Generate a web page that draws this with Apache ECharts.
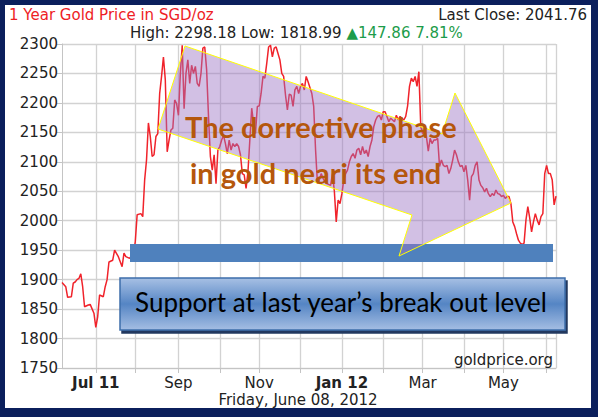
<!DOCTYPE html>
<html><head><meta charset="utf-8">
<script src="https://cdn.jsdelivr.net/npm/echarts@6/dist/echarts.min.js"></script>
<style>html,body{margin:0;padding:0;background:#0b1f5c;}#c{width:598px;height:417px;}</style>
</head><body><div id="c"></div>
<script>
// ---- data ----
const startDate = '2011-06-07';
const endDate = '2012-06-08';
const labelMonths = ['07', '09', '11', '01', '03', '05'];
const monthNames = ['Jan','Feb','Mar','Apr','May','Jun','Jul','Aug','Sep','Oct','Nov','Dec'];
const dayIdx = [
  0,2,3,5,6,7,8,9,10,11,12,14,15,17,18,19,20,22,23,24,25,27,28,30,32,33,34,36,38,39,
  40,42,43,44,45,46,47,48,49,50,51,52,53,54,55,56,57,58,59,60,61,62,63,64,65,66,67,68,69,70,
  71,72,73,74,75,76,77,78,79,80,81,82,83,84,85,86,87,88,89,90,91,92,93,94,95,96,97,98,99,100,
  101,102,103,104,105,106,107,108,109,110,111,112,113,114,115,116,117,118,119,120,121,122,123,124,125,126,127,128,129,130,131,
  133,134,135,136,137,138,139,140,141,143,144,145,146,147,148,149,150,151,152,153,154,155,156,157,158,159,160,
  161,162,163,164,165,166,167,168,169,170,171,172,173,174,175,176,177,178,179,180,181,182,183,184,185,186,187,188,189,190,
  191,192,193,194,195,196,197,198,199,200,201,202,203,204,205,206,207,208,209,210,211,212,213,214,215,216,217,218,219,220,
  221,222,223,224,225,226,227,228,229,230,231,232,233,234,235,236,237,238,239,240,241,242,243,244,245,246,247,248,249,250,
  251,252,253,254,255,256,257,258,259,260,261,262,263
];
const price = [
  1895,1888,1870,1871,1894,1896,1900,1902,1910,1888,1854,1857,1858,1843,1819,1837,1874,1871,1888,1900,1930,1933,1950,1939,1922,1945,1939,1936,1945,1964,
  2010,2012,2007,2069,2103,2166,2143,2109,2112,2143,2148,2216,2245,2278,2239,2117,2137,2154,2157,2205,2199,2179,2250,2298,2190,2250,2273,2233,2264,2250,
  2262,2233,2228,2250,2293,2295,2256,2177,2109,2086,2112,2063,2120,2126,2137,2145,2131,2114,2137,2120,2131,2126,2131,2126,2112,2080,2078,2055,2083,2137,
  2191,2165,2148,2194,2195,2216,2245,2242,2267,2295,2298,2278,2293,2295,2284,2273,2250,2245,2213,2188,2215,2213,2194,2222,2228,2216,2228,2233,2222,2245,2236,
  2216,2194,2120,2063,2069,2080,2072,2066,2063,2060,2080,2050,1998,2035,2029,2046,2069,2080,2086,2100,2109,2114,2106,2120,2123,2112,2126,
  2114,2120,2109,2126,2137,2160,2171,2177,2179,2171,2185,2185,2177,2168,2174,2171,2168,2179,2171,2177,2174,2171,2177,2195,2228,2242,2236,2245,2228,2253,
  2160,2148,2154,2143,2118,2140,2131,2137,2137,2140,2092,2103,2094,2092,2094,2080,2089,2103,2120,2112,2100,2092,2094,2083,2094,2069,2035,2075,2080,2094,
  2100,2069,2060,2056,2049,2055,2046,2041,2046,2043,2052,2046,2045,2041,2043,2038,2041,2041,2029,1998,1990,1978,1967,1962,1960,1962,2001,2024,2005,1981,
  1998,2012,2001,1993,2007,2012,2080,2094,2080,2080,2069,2027,2041.76
];
const yMin = 1750, yMax = 2300, yStep = 50;
const titleText = '1 Year Gold Price in SGD/oz';
const lastCloseText = 'Last Close: 2041.76';
const highLowText = 'High: 2298.18 Low: 1818.99 ';
const changeText = '\u25B2147.86 7.81%';
const dateText = 'Friday, June 08, 2012';
const sourceText = 'goldprice.org';
const note1 = 'The dorrective phase';
const note2 = 'in gold neari its end';
const supportText = 'Support at last year\u2019s break out level';

// ---- build ----
function tradingDays(s, e) {
  const out = [];
  let d = new Date(s + 'T00:00:00Z');
  const end = new Date(e + 'T00:00:00Z');
  while (d <= end) {
    const w = d.getUTCDay();
    if (w !== 0 && w !== 6) out.push(d.toISOString().slice(0, 10));
    d = new Date(d.getTime() + 86400000);
  }
  return out;
}
const categories = tradingDays(startDate, endDate);
const monthStart = new Set();
categories.forEach((c, i) => { if (i > 0 && c.slice(5, 7) !== categories[i - 1].slice(5, 7)) monthStart.add(i); });
const lastIdx = categories.length - 1;
const seriesData = dayIdx.map((d, k) => [categories[d], price[k]]);

const chart = echarts.init(document.getElementById('c'), null, { renderer: 'svg' });
const gridColor = '#d2d2d2';
const uiFont = '15px "DejaVu Sans"';
chart.setOption({
  backgroundColor: '#0b1f5c',
  animation: false,
  grid: { left: 62, right: 42, top: 44, bottom: 49, containLabel: false },
  xAxis: {
    type: 'category', data: categories, boundaryGap: false,
    axisLine: { lineStyle: { color: '#c4c4c4' } },
    axisTick: { show: true, length: 5, interval: (i) => monthStart.has(i), lineStyle: { color: '#c4c4c4' } },
    splitLine: { show: true, interval: (i) => monthStart.has(i) || i === lastIdx, lineStyle: { color: gridColor, width: 1.3 } },
    axisLabel: {
      interval: (i, v) => monthStart.has(i) && labelMonths.includes(v.slice(5, 7)),
      margin: 7,
      fontFamily: 'DejaVu Sans', fontSize: 15, color: '#222',
      formatter: (v) => {
        const m = +v.slice(5, 7) - 1;
        if (m === 6 || m === 0) return '{b|' + monthNames[m] + ' ' + v.slice(2, 4) + '}';
        return monthNames[m];
      },
      rich: { b: { fontFamily: 'DejaVu Sans', fontSize: 15, fontWeight: 'bold', color: '#222' } }
    }
  },
  yAxis: {
    type: 'value', min: yMin, max: yMax, interval: yStep,
    axisLine: { show: true, lineStyle: { color: '#c4c4c4' } },
    axisTick: { show: true, length: 5, lineStyle: { color: '#c4c4c4' } },
    splitLine: { lineStyle: { color: gridColor, width: 1.3 } },
    axisLabel: { margin: 4, fontFamily: 'DejaVu Sans', fontSize: 15, color: '#222', formatter: (v) => String(v) }
  },
  series: [{
    type: 'line', data: seriesData, symbol: 'none', connectNulls: true, z: 3,
    lineStyle: { color: '#f0232b', width: 1.5 }
  }],
  graphic: [
    { type: 'rect', z: -10, silent: true, shape: { x: 5, y: 5, width: 586, height: 403 }, style: { fill: '#ffffff' } },
    { type: 'text', z: 5, x: 9, y: 15, style: { text: titleText, fill: '#ee1d25', font: uiFont, verticalAlign: 'middle' } },
    { type: 'text', z: 5, x: 587, y: 15, style: { text: lastCloseText, fill: '#222', font: uiFont, align: 'right', verticalAlign: 'middle' } },
    { type: 'text', z: 5, x: 130, y: 33, style: {
      text: '{a|' + highLowText + '}{g|' + changeText + '}', verticalAlign: 'middle',
      rich: { a: { fill: '#222', font: uiFont }, g: { fill: '#1d9c4a', font: uiFont } } } },
    { type: 'text', z: 5, x: 298, y: 400, style: { text: dateText, fill: '#222', font: uiFont, align: 'center', verticalAlign: 'middle' } },
    { type: 'text', z: 5, x: 553, y: 360, style: { text: sourceText, fill: '#222', font: uiFont, align: 'right', verticalAlign: 'middle' } },
    { type: 'rect', z: 40, silent: true, shape: { x: 130, y: 244, width: 423, height: 18 }, style: { fill: '#4f81bd' } },
    { type: 'polygon', z: 45, silent: true,
      shape: { points: [[185, 46], [442, 134], [455, 93], [511, 203], [399, 256], [412, 215], [158, 129]] },
      style: { fill: 'rgba(155,115,195,0.45)', stroke: '#ffff00', lineWidth: 1 } },
    { type: 'text', z: 46, x: 185, y: 126, style: { text: note1, fill: '#b5570c', font: 'bold 29px Lato', verticalAlign: 'middle' } },
    { type: 'text', z: 46, x: 190, y: 172, style: { text: note2, fill: '#b5570c', font: 'bold 29px Lato', verticalAlign: 'middle' } },
    { type: 'rect', z: 50, silent: true, shape: { x: 120, y: 278, width: 445, height: 52 },
      style: {
        fill: new echarts.graphic.LinearGradient(0, 0, 0, 1, [
          { offset: 0, color: '#a7c0e4' }, { offset: 0.5, color: '#5585c4' }, { offset: 1, color: '#a5bee3' }]),
        stroke: '#3d6eab', lineWidth: 1.5,
        shadowColor: '#22375f', shadowOffsetX: 2, shadowOffsetY: 3, shadowBlur: 0 } },
    { type: 'text', z: 51, x: 341, y: 302, style: { text: supportText, fill: '#000', font: '26px Lato', align: 'center', verticalAlign: 'middle' } }
  ]
});
</script></body></html>
